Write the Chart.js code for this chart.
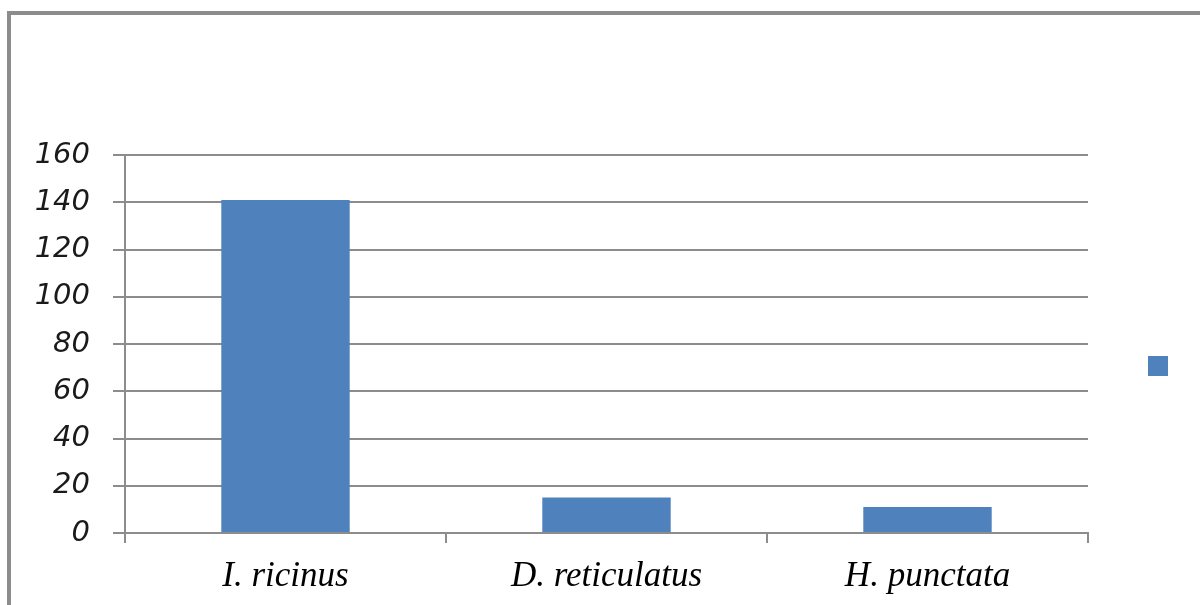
<!DOCTYPE html>
<html>
<head>
<meta charset="utf-8">
<script src="https://cdn.jsdelivr.net/npm/chart.js@4"></script>
<style>
  html, body { margin: 0; padding: 0; background: #ffffff; overflow: hidden; width: 1200px; height: 605px; }
  #frame { position: absolute; left: 7px; top: 11px; width: 1300px; height: 700px; border: 4px solid #8c8c8c; box-sizing: border-box; }
  #c { position: absolute; left: 0; top: 0; }
</style>
</head>
<body>
<div id="frame"></div>
<canvas id="c" width="1200" height="605"></canvas>
<script>
const categories = ['I. ricinus', 'D. reticulatus', 'H. punctata'];
const seriesValues = [141, 15, 11];
const seriesLabel = '';
const yTicks = [0, 20, 40, 60, 80, 100, 120, 140, 160];

const gridColor = '#8c8c8c';

new Chart(document.getElementById('c'), {
  type: 'bar',
  data: {
    labels: categories,
    datasets: [{
      label: seriesLabel,
      data: seriesValues,
      backgroundColor: '#4f81bd',
      borderWidth: 0,
      categoryPercentage: 1.0,
      barPercentage: 0.4
    }]
  },
  options: {
    responsive: false,
    animation: false,
    devicePixelRatio: 1,
    layout: { padding: { left: 0, right: 16, top: 155, bottom: 0 } },
    plugins: {
      tooltip: { enabled: false },
      legend: {
        display: true,
        position: 'right',
        fullSize: false,
        align: 'center',
        title: { display: true, text: ' ', font: { size: 10 }, padding: { top: 16, bottom: 16 } },
        labels: {
          boxWidth: 20,
          boxHeight: 20,
          padding: 60,
          font: { size: 12 },
          color: '#000'
        }
      }
    },
    scales: {
      x: {
        afterFit: s => { s.height = 72; },
        grid: {
          display: true,
          offset: true,
          drawOnChartArea: false,
          drawTicks: true,
          tickLength: 10,
          color: gridColor,
          lineWidth: 2
        },
        border: { display: true, color: gridColor, width: 2 },
        ticks: {
          padding: 13,
          color: '#000',
          font: { family: '"Liberation Serif", "Times New Roman", serif', style: 'italic', size: 35 }
        }
      },
      y: {
        min: 0,
        max: 160,
        afterFit: s => { s.width = 125; },
        afterBuildTicks: s => { s.ticks = yTicks.map(v => ({ value: v })); },
        grid: {
          color: gridColor,
          lineWidth: 2,
          tickLength: 12,
          drawTicks: true
        },
        border: { display: true, color: gridColor, width: 2 },
        ticks: {
          stepSize: 20,
          padding: 23,
          color: '#1a1a1a',
          font: { family: '"DejaVu Sans", Verdana, sans-serif', style: 'italic', size: 29 }
        }
      }
    }
  }
});
</script>
</body>
</html>
